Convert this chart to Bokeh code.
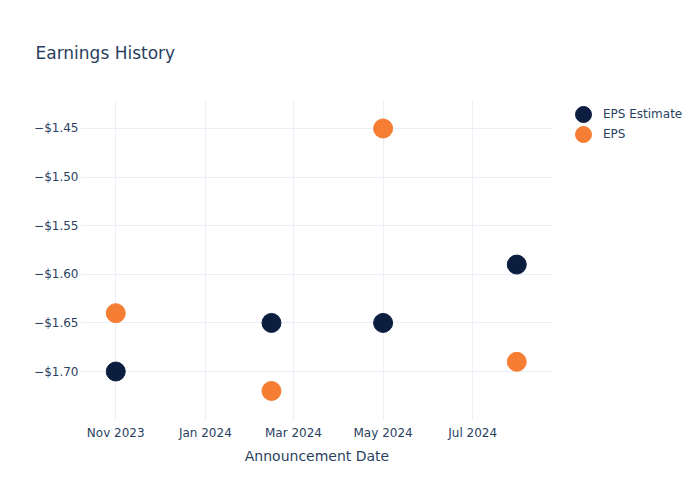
import pandas as pd
from bokeh.plotting import figure
from bokeh.models import (ColumnDataSource, FixedTicker, DatetimeTickFormatter,
                          CustomJSTickFormatter, Legend, LegendItem, Range1d)
from bokeh.embed import file_html
from bokeh.resources import INLINE

title_text = "Earnings History"
x_label = "Announcement Date"
series_names = ["EPS Estimate", "EPS"]
dates = ["2023-11-01", "2024-02-15", "2024-05-01", "2024-07-31"]
eps_estimate = [-1.70, -1.65, -1.65, -1.59]
eps_actual = [-1.64, -1.72, -1.45, -1.69]
x_ticks = ["2023-11-01", "2024-01-01", "2024-03-01", "2024-05-01", "2024-07-01"]
y_ticks = [-1.70, -1.65, -1.60, -1.55, -1.50, -1.45]


def ms(s):
    return pd.Timestamp(s).value / 1e6


src = ColumnDataSource(dict(x=[ms(d) for d in dates], est=eps_estimate, eps=eps_actual))

TEXT = "#2a3f5f"
GRID = "#ebf0f8"
FONT = "DejaVu Sans"
C_EST = "#0b1e3f"
C_EPS = "#f67e34"

p = figure(frame_width=473, frame_height=320, output_backend="svg", toolbar_location=None,
           x_axis_type="datetime",
           x_range=Range1d(ms("2023-10-08"), ms("2024-08-25")),
           y_range=Range1d(-1.7504, -1.4212),
           min_border_left=80, min_border_right=147, min_border_top=100, min_border_bottom=80)
p.outline_line_color = None
p.background_fill_color = "white"
p.border_fill_color = "white"

p.title.text = title_text
p.title.text_font = FONT
p.title.text_font_size = "17px"
p.title.text_font_style = "normal"
p.title.text_color = TEXT
p.title.align = "left"
p.title.offset = -45
p.title.standoff = 76

r1 = p.ellipse("x", "est", source=src, width=19, height=19,
               width_units="screen", height_units="screen",
               fill_color=C_EST, line_color=C_EST)
r2 = p.ellipse("x", "eps", source=src, width=19, height=19,
               width_units="screen", height_units="screen",
               fill_color=C_EPS, line_color=C_EPS)

xa = p.xaxis[0]
xa.ticker = FixedTicker(ticks=[ms(t) for t in x_ticks])
xa.formatter = DatetimeTickFormatter(days="%b %Y", months="%b %Y", years="%b %Y")
xa.axis_label = x_label
xa.axis_label_text_font = FONT
xa.axis_label_text_font_size = "14px"
xa.axis_label_text_font_style = "normal"
xa.axis_label_text_color = TEXT
xa.axis_label_standoff = 5
xa.major_label_text_font = FONT
xa.major_label_text_font_size = "12px"
xa.major_label_text_color = TEXT
xa.major_label_standoff = 5
xa.major_tick_out = 0
xa.major_tick_in = 0
xa.minor_tick_out = 0
xa.axis_line_color = None
xa.major_tick_line_color = None
xa.minor_tick_line_color = None

ya = p.yaxis[0]
ya.ticker = FixedTicker(ticks=y_ticks)
ya.formatter = CustomJSTickFormatter(code="return (tick < 0 ? '\u2212' : '') + '$' + Math.abs(tick).toFixed(2);")
ya.major_label_text_font = FONT
ya.major_label_text_font_size = "12px"
ya.major_label_text_color = TEXT
ya.major_label_standoff = 2
ya.major_tick_out = 0
ya.major_tick_in = 0
ya.minor_tick_out = 0
ya.axis_line_color = None
ya.major_tick_line_color = None
ya.minor_tick_line_color = None

p.xgrid.grid_line_color = GRID
p.ygrid.grid_line_color = GRID
p.xgrid.ticker = xa.ticker
p.ygrid.ticker = ya.ticker

legend = Legend(items=[LegendItem(label=series_names[0], renderers=[r1]),
                       LegendItem(label=series_names[1], renderers=[r2])],
                location=(20, 276), border_line_color=None, background_fill_alpha=0,
                label_text_font=FONT, label_text_font_size="12px",
                label_text_color=TEXT, glyph_width=20, glyph_height=20,
                spacing=0, padding=0, margin=0, label_standoff=10,
                label_height=18)
p.add_layout(legend, "right")

open("out.html", "w").write(file_html(p, INLINE))
